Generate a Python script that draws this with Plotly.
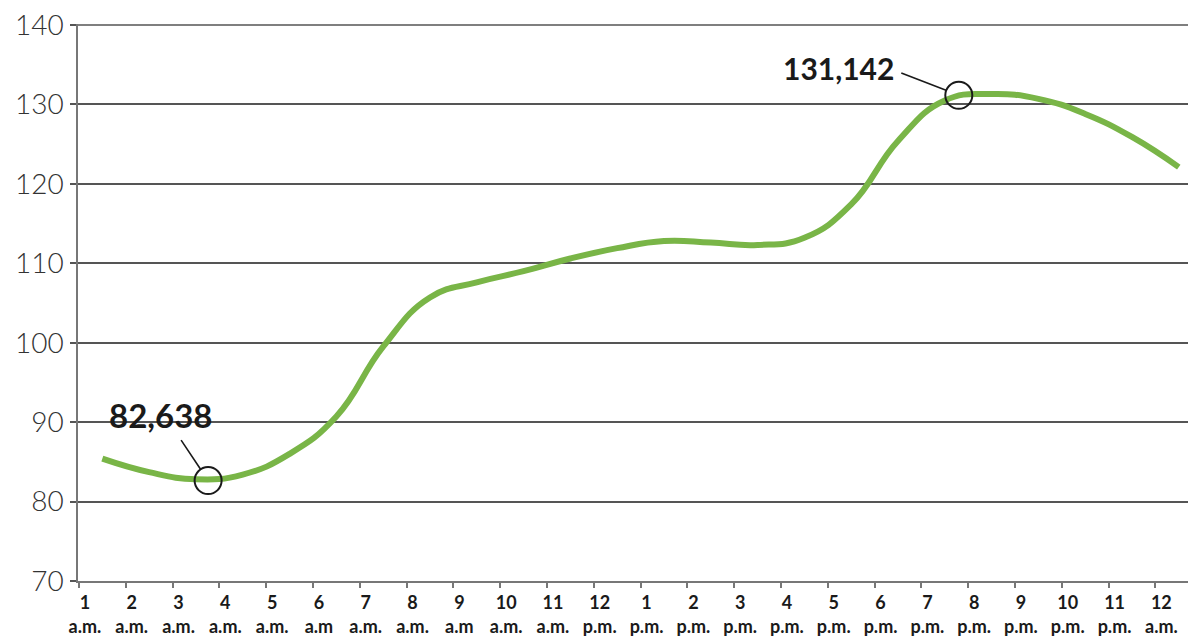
import plotly.graph_objects as go

# Hour categories (tick labels)
hour_nums = ["1", "2", "3", "4", "5", "6", "7", "8", "9", "10", "11", "12",
             "1", "2", "3", "4", "5", "6", "7", "8", "9", "10", "11", "12"]
hour_periods = ["a.m.", "a.m.", "a.m.", "a.m.", "a.m.", "a.m", "a.m.", "a.m.", "a.m", "a.m.", "a.m.", "p.m.",
                "p.m.", "p.m.", "p.m.", "p.m.", "p.m.", "p.m.", "p.m.", "p.m.", "p.m.", "p.m.", "p.m.", "a.m."]

# Series: values (thousands) at half-hour positions
x_pos = [0.5, 1.5, 2.5, 3.5, 4.5, 5.5, 6.5, 7.5, 8.5, 9.5, 10.5, 11.5,
         12.5, 13.5, 14.5, 15.5, 16.5, 17.5, 18.5, 19.5, 20.5, 21.5, 22.5, 23.5]
values = [85.4, 83.7, 82.8, 83.4, 86.0, 90.7, 99.5, 105.7, 107.6, 109.0, 110.6, 111.9,
          112.8, 112.6, 112.3, 113.2, 117.4, 125.4, 130.5, 131.3, 130.7, 128.8, 125.9, 122.1]

# Highlighted points
hl_x = [2.76, 18.8]
hl_y = [82.638, 131.142]
hl_text = ["82,638", "131,142"]

y_ticks = [70, 80, 90, 100, 110, 120, 130, 140]

fig = go.Figure()
fig.add_trace(go.Scatter(
    x=x_pos, y=values, mode="lines",
    line=dict(color="#79b547", width=6, shape="spline", smoothing=1.3),
    hoverinfo="skip", showlegend=False,
))
fig.add_trace(go.Scatter(
    x=hl_x, y=hl_y, mode="markers",
    marker=dict(symbol="circle-open", size=27, color="#1a1a1a", line=dict(width=2, color="#1a1a1a")),
    hoverinfo="skip", showlegend=False,
))

# top gridline (plotly drops the grid line at the very end of the range)
fig.add_hline(y=y_ticks[-1], line=dict(color="#555", width=1.5), layer="below")

# leader lines
fig.add_annotation(x=hl_x[0], y=hl_y[0], xref="x", yref="y", text="", showarrow=True,
                   ax=-28, ay=-42, arrowhead=0, arrowwidth=1.6, arrowcolor="#1a1a1a", standoff=13)
fig.add_annotation(x=hl_x[1], y=hl_y[1], xref="x", yref="y", text="", showarrow=True,
                   ax=-59, ay=-23, arrowhead=0, arrowwidth=1.6, arrowcolor="#1a1a1a", standoff=13)
# labels
fig.add_annotation(x=hl_x[0], y=hl_y[0], xref="x", yref="y", text="<b>" + hl_text[0] + "</b>",
                   showarrow=False, xshift=-48, yshift=66,
                   font=dict(family="Lato, sans-serif", size=33, color="#1a1a1a"))
fig.add_annotation(x=hl_x[1], y=hl_y[1], xref="x", yref="y", text="<b>" + hl_text[1] + "</b>",
                   showarrow=False, xshift=-120, yshift=27,
                   font=dict(family="Lato, sans-serif", size=30, color="#1a1a1a"))

tick_text = [f"{n}<br>{p}" for n, p in zip(hour_nums, hour_periods)]

# the page adds an 8px body margin, so the figure is sized to fit the window
fig.update_layout(
    width=1188, height=629,
    margin=dict(l=70, r=6, t=16, b=56),
    paper_bgcolor="white", plot_bgcolor="white",
    showlegend=False,
    xaxis=dict(
        range=[-0.02, 23.74], automargin=False,
        tickmode="array", tickvals=list(range(24)), ticktext=tick_text,
        showgrid=False, zeroline=False,
        showline=True, linecolor="#777", linewidth=1.5,
        ticks="outside", ticklen=5, tickcolor="#777", tickwidth=1.5,
        ticklabelshift=6,
        tickfont=dict(family="Lato, sans-serif", size=18, color="#1a1a1a", weight=700),
    ),
    yaxis=dict(
        range=[70, 140.12], automargin=False,
        tickmode="array", tickvals=y_ticks,
        showgrid=True, gridcolor="#555", gridwidth=1.5,
        zeroline=False,
        showline=True, linecolor="#777", linewidth=1.5,
        ticks="outside", ticklen=6, tickcolor="#555", tickwidth=1.5,
        ticklabelstandoff=1, ticklabeloverflow="allow",
        tickfont=dict(family="Lato, sans-serif", size=28, color="#333", weight=300),
    ),
)

fig.write_html("out.html")
